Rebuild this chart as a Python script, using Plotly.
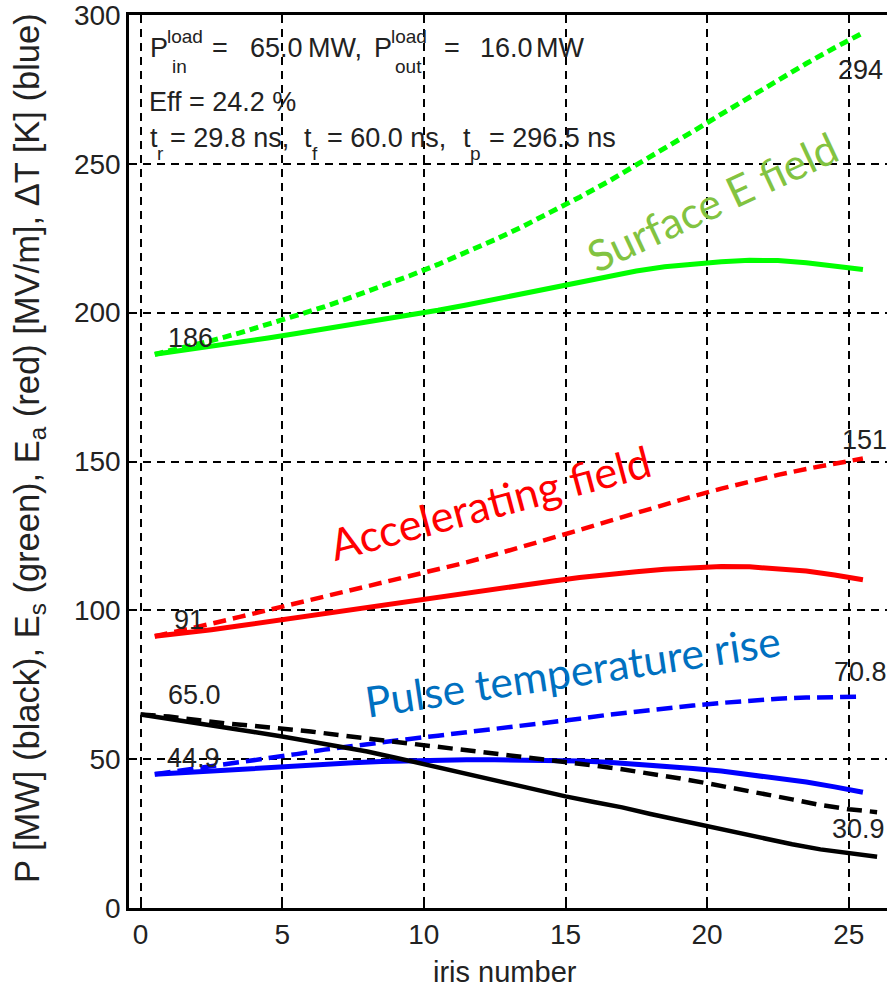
import plotly.graph_objects as go

# ---------------- data ----------------
cell_x = [0.5, 1.5, 2.5, 3.5, 4.5, 5.5, 6.5, 7.5, 8.5, 9.5, 10.5, 11.5, 12.5,
          13.5, 14.5, 15.5, 16.5, 17.5, 18.5, 19.5, 20.5, 21.5, 22.5, 23.5, 24.5, 25.5]
edge_x = [0, 1, 2, 3, 4, 5, 6, 7, 8, 9, 10, 11, 12, 13, 14, 15, 16, 17, 18, 19,
          20, 21, 22, 23, 24, 25, 26]

es_solid = [186, 187.3, 188.6, 190, 191.5, 193, 194.5, 196, 197.5, 199, 200.8, 202.6, 204.5,
            206.4, 208.4, 210.4, 212.3, 214, 215.4, 216.4, 217.1, 217.6, 217.5, 216.8, 215.7, 214.5]
es_dash = [186, 188.2, 190.6, 193.2, 196, 199, 202, 205.4, 208.8, 212.4, 216.2, 220.2, 224.5,
           229, 233.8, 238.8, 244, 249.5, 255.1, 260.9, 266.7, 272.5, 278.2, 283.7, 289, 294]
ea_solid = [91.3, 92.2, 93.5, 94.8, 96.2, 97.6, 99, 100.4, 101.8, 103.2, 104.6, 106, 107.3,
            108.6, 109.8, 111, 112.1, 113, 113.8, 114.4, 114.7, 114.6, 114.1, 113.2, 111.9, 110.3]
ea_dash = [91.3, 93.3, 95.5, 97.8, 100.1, 102.4, 104.6, 106.8, 109, 111.2, 113.6, 116.1, 118.7,
           121.4, 124.2, 127, 129.9, 132.8, 135.6, 138.3, 140.9, 143.3, 145.5, 147.5, 149.3, 151]
dt_solid = [44.9, 45.5, 46.1, 46.7, 47.3, 47.8, 48.3, 48.8, 49.2, 49.5, 49.7, 49.8, 49.8,
            49.8, 49.7, 49.4, 49, 48.4, 47.7, 46.9, 46, 44.9, 43.7, 42.3, 40.7, 38.9]
dt_dash = [44.9, 46.2, 47.6, 49, 50.3, 51.7, 53.2, 54.5, 55.7, 56.8, 57.9, 59, 60.1,
           61.2, 62.4, 63.6, 64.9, 66, 67.1, 68, 68.9, 69.7, 70.3, 70.7, 70.9, 71]
p_solid = [65, 63.6, 62.1, 60.6, 59.1, 57.6, 56, 54.3, 52.6, 50.5, 48.3, 46.1, 43.9, 41.7,
           39.6, 37.5, 35.6, 33.8, 31.6, 29.5, 27.4, 25.4, 23.3, 21.4, 19.7, 18.4, 17.2]
p_dash = [65, 64.3, 63.2, 62, 61.2, 60.4, 59.3, 58.1, 57, 55.8, 54.5, 53.4, 52.3, 51.2,
          50.2, 49.2, 47.9, 46.6, 45.2, 43.6, 41.9, 40.2, 38.4, 36.5, 34.6, 33.2, 32.2]

x_ticks = [0, 5, 10, 15, 20, 25]
y_ticks = [0, 50, 100, 150, 200, 250, 300]

value_labels = ["186", "91", "65.0", "44.9", "294", "151", "70.8", "30.9"]
value_label_x = [1.75, 1.7, 1.9, 1.85, 25.4, 25.55, 25.4, 25.35]
value_label_y = [191.4, 96.9, 71.6, 50.3, 281.6, 157.3, 79.3, 26.5]

# ---------------- styles ----------------
MFONT = "Liberation Sans, Arial, Helvetica, sans-serif"
TXT = "#222222"
CFONT = "Lato, Calibri, Open Sans, sans-serif"
FS = 27
SUB = 19

fig = go.Figure()

def add(x, y, color, width, dash=None):
    line = dict(color=color, width=width)
    if dash:
        line["dash"] = dash
    fig.add_trace(go.Scatter(x=x, y=y, mode="lines", line=line, showlegend=False,
                             hoverinfo="skip"))

add(cell_x, es_dash, "#00ff00", 5, "9px,5px")
add(cell_x, es_solid, "#00ff00", 5)
add(cell_x, ea_dash, "#ff0000", 4.5, "13px,7px")
add(cell_x, ea_solid, "#ff0000", 5)
add(cell_x, dt_dash, "#0000ff", 4.5, "16px,7px")
add(cell_x, dt_solid, "#0000ff", 5)
add(edge_x, p_dash, "#000000", 4.5, "15px,8px")
add(edge_x, p_solid, "#000000", 4.5)

# plot area in pixels: x 129..887, y 15..908
L, R, T, B = 129, 887, 15, 908
def px(xp):
    return (xp - L) / (R - L)
def py(yp):
    return (B - yp) / (B - T)

ann = []
for t, xv, yv in zip(value_labels, value_label_x, value_label_y):
    ann.append(dict(x=xv, y=yv, xref="x", yref="y", text=t, showarrow=False,
                    font=dict(family=MFONT, size=FS, color=TXT),
                    xanchor="center", yanchor="middle"))

def ptext(text, xp, yp, size=FS, color=TXT, family=MFONT, angle=0, xanchor="left"):
    ann.append(dict(x=px(xp), y=py(yp), xref="paper", yref="paper", text=text,
                    showarrow=False, textangle=angle,
                    font=dict(family=family, size=size, color=color),
                    xanchor=xanchor, yanchor="middle"))

# info text block (top-left)
ptext("P", 148, 48)
ptext("load", 165, 37, size=SUB)
ptext("in", 170, 67, size=SUB)
ptext("=", 210, 48)
ptext("65.0", 248, 48)
ptext("MW,", 306, 48)
ptext("P", 372, 48)
ptext("load", 389, 37, size=SUB)
ptext("out", 393, 67, size=SUB)
ptext("=", 442, 48)
ptext("16.0", 478, 48)
ptext("MW", 534, 48)

ptext("Eff = 24.2 %", 147, 102.5)

ptext("t", 148, 138)
ptext("r", 155, 154, size=SUB)
ptext("= 29.8 ns,", 168, 138)
ptext("t", 302, 138)
ptext("f", 310, 154, size=SUB)
ptext("= 60.0 ns,", 325, 138)
ptext("t", 461, 138)
ptext("p", 468, 154, size=SUB)
ptext("= 296.5 ns", 487, 138)

# coloured labels
ptext("Surface E field", 712, 201, size=43, color="#82c341", family=CFONT,
      angle=-25, xanchor="center")
ptext("Accelerating field", 490, 502, size=43.5, color="#ff0000", family=CFONT,
      angle=-15, xanchor="center")
ptext("Pulse temperature rise", 572, 670, size=42.5, color="#0070c0", family=CFONT,
      angle=-8.5, xanchor="center")

# axis titles
ptext("P [MW] (black), E<sub>s</sub> (green), E<sub>a</sub> (red) [MV/m], \u0394T [K] (blue)",
      30, 448, size=34.5, angle=-90, xanchor="center")
ptext("iris number", 505, 972, size=29, xanchor="center")

axis_common = dict(
    showgrid=True, gridcolor="#000000", gridwidth=1.5, griddash="8px,6px",
    showline=True, linecolor="#000000", linewidth=2.5,
    ticks="inside", ticklen=8, tickwidth=1.5, tickcolor="#000000",
    zeroline=False, tickfont=dict(family=MFONT, size=FS + 1, color=TXT),
    ticklabeloverflow="allow",
)

fig.update_layout(
    width=887, height=992,
    margin=dict(l=L, r=887 - R, t=T, b=992 - B),
    paper_bgcolor="white", plot_bgcolor="white",
    xaxis=dict(range=[-0.41, 26.35], tickvals=x_ticks, mirror="ticks", **axis_common),
    yaxis=dict(range=[0, 300], tickvals=y_ticks, mirror=False, **axis_common),
    annotations=ann,
)

fig.write_html("out.html")
